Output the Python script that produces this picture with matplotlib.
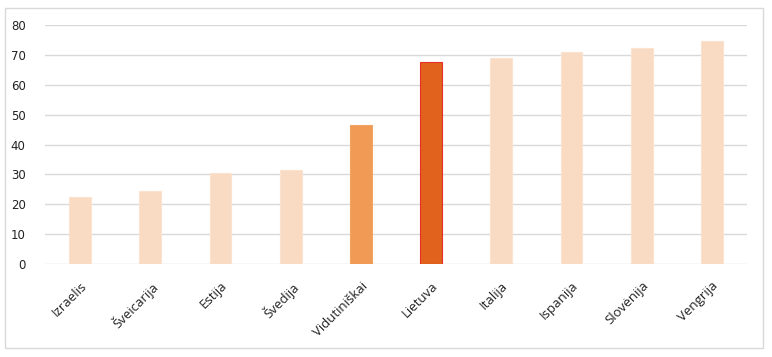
import matplotlib
matplotlib.use("Agg")
import matplotlib.pyplot as plt
from matplotlib.patches import Rectangle

categories = ["Izraelis", "Šveicarija", "Estija", "Švedija", "Vidutiniškai",
              "Lietuva", "Italija", "Ispanija", "Slovėnija", "Vengrija"]
values = [22.5, 24.4, 30.5, 31.5, 46.4, 67.5, 69.0, 70.9, 72.2, 74.6]
y_ticks = [0, 10, 20, 30, 40, 50, 60, 70, 80]

pale = "#F9DBC3"
colors = [pale] * 10
colors[4] = "#F09A55"
colors[5] = "#E0621C"
edges = ["#FBE3D0"] * 10
edges[4] = "#F2A465"
edges[5] = "#E8302A"

fig = plt.figure(figsize=(7.72, 3.57), dpi=100)
fig.patch.set_facecolor("white")
fig.add_artist(Rectangle((5/772, 1-348/357), 758/772, 340/357, transform=fig.transFigure,
                         fill=False, edgecolor="#D9D9D9", linewidth=1.0))
ax = fig.add_axes([45/772, 1-264/357, 702/772, 239/357])
x = list(range(len(categories)))
ax.bar(x, values, width=0.31, color=colors, edgecolor=edges, linewidth=0.8, zorder=3)
ax.set_xlim(-0.5, 9.5)
ax.set_ylim(0, 80)
ax.set_yticks(y_ticks)
ax.set_yticklabels([str(t) for t in y_ticks], fontsize=8.5, color="#222222", family="DejaVu Sans")
ax.set_xticks(x)
ax.set_xticklabels(categories, rotation=45, ha="right", rotation_mode="anchor",
                   fontsize=9.5, color="#222222", family="Open Sans")
ax.tick_params(axis="both", length=0)
ax.tick_params(axis="y", pad=14)
ax.tick_params(axis="x", pad=11)
ax.grid(axis="y", color="#D9D9D9", linewidth=1.0, zorder=0)
for s in ax.spines.values():
    s.set_visible(False)
fig.savefig("out.png", dpi=100)
